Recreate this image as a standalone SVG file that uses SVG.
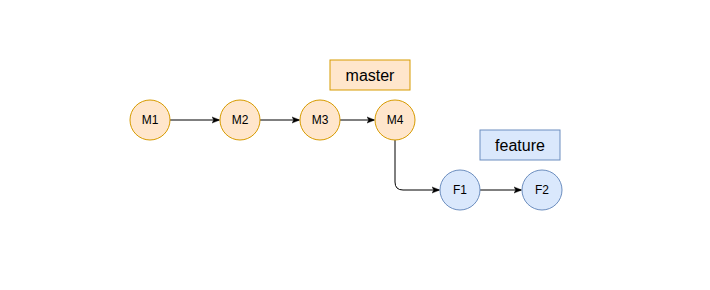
<svg xmlns="http://www.w3.org/2000/svg" width="710" height="290" viewBox="0 0 710 290">
<defs>
<style>
.o{fill:#ffe6cc;stroke:#d79b00;stroke-width:1}
.b{fill:#dae8fc;stroke:#6c8ebf;stroke-width:1}
.t{font-family:"Liberation Sans",Arial,sans-serif;font-size:12px;fill:#000;text-anchor:middle;dominant-baseline:central}
.l{font-family:"Liberation Sans",Arial,sans-serif;font-size:16px;fill:#000;text-anchor:middle;dominant-baseline:central}
.e{fill:none;stroke:#000;stroke-width:1}
</style>
<marker id="a" viewBox="0 0 10 10" refX="9" refY="5" markerWidth="8" markerHeight="8" markerUnits="userSpaceOnUse" orient="auto">
<path d="M0,1 L10,5 L0,9 L2.5,5 Z" fill="#000" stroke="#000" stroke-width="0.5"/>
</marker>
</defs>
<rect width="710" height="290" fill="#fff"/>
<g id="edges">
<path class="e" d="M170,120 H219" marker-end="url(#a)"/>
<path class="e" d="M260,120 H299" marker-end="url(#a)"/>
<path class="e" d="M340,120 H374" marker-end="url(#a)"/>
<path class="e" d="M395,140 V182 Q395,190 403,190 H439" marker-end="url(#a)"/>
<path class="e" d="M480,190 H521" marker-end="url(#a)"/>
</g>
<g id="M1"><circle class="o" cx="150" cy="120" r="20"/><text class="t" x="150" y="120">M1</text></g>
<g id="M2"><circle class="o" cx="240" cy="120" r="20"/><text class="t" x="240" y="120">M2</text></g>
<g id="M3"><circle class="o" cx="320" cy="120" r="20"/><text class="t" x="320" y="120">M3</text></g>
<g id="M4"><circle class="o" cx="395" cy="120" r="20"/><text class="t" x="395" y="120">M4</text></g>
<g id="master"><rect class="o" x="330" y="60" width="80" height="30"/><text class="l" x="370" y="75">master</text></g>
<g id="feature"><rect class="b" x="480" y="130" width="80" height="30"/><text class="l" x="520" y="145">feature</text></g>
<g id="F1"><circle class="b" cx="460" cy="190" r="20"/><text class="t" x="460" y="190">F1</text></g>
<g id="F2"><circle class="b" cx="542" cy="190" r="20"/><text class="t" x="542" y="190">F2</text></g>
</svg>
